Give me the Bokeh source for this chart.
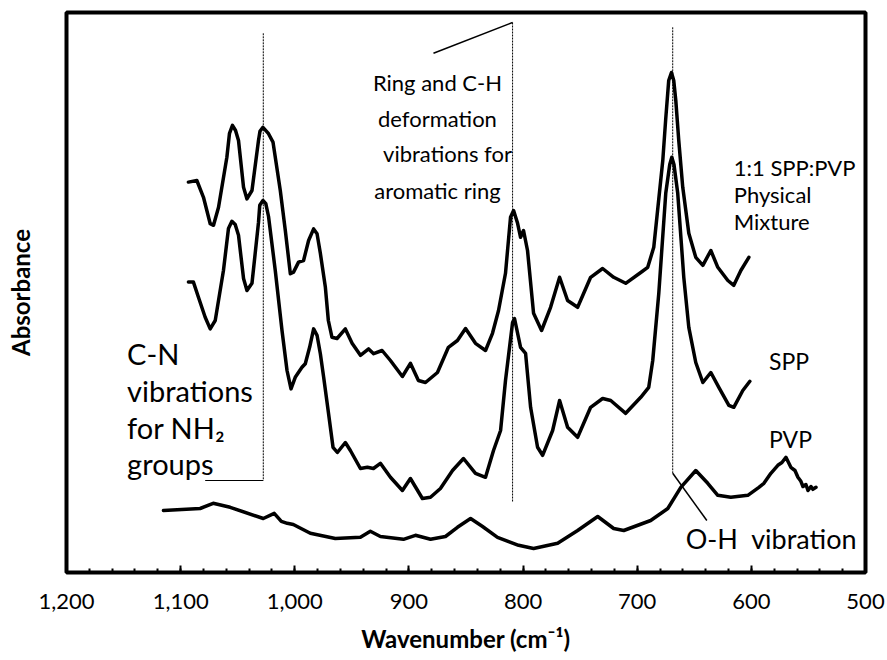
from bokeh.plotting import figure
from bokeh.models import Range1d, FixedTicker, NumeralTickFormatter
from bokeh.core.properties import value
from bokeh.embed import file_html
from bokeh.resources import INLINE

# ---------------- data ----------------
pm_wn = [1093.2, 1085.8, 1080.0, 1074.1, 1071.2, 1066.8, 1059.5, 1057.2, 1054.6, 1051.9,
         1049.3, 1044.9, 1041.9, 1037.5, 1031.8, 1030.5, 1027.9, 1023.0, 1019.1, 1012.7,
         1008.3, 1003.9, 1001.1, 996.7, 992.3, 987.9, 983.5, 980.5, 977.6, 973.2,
         970.6, 967.4, 963.0, 955.7, 949.8, 942.5, 935.3, 930.9, 923.5, 916.2,
         907.5, 905.7, 898.7, 891.7, 885.5, 875.0, 865.4, 857.5, 850.4, 841.7,
         832.9, 826.8, 821.5, 815.4, 811.0, 808.3, 804.8, 802.2, 799.6, 796.1,
         790.8, 783.8, 775.9, 768.0, 761.0, 752.2, 740.8, 730.3, 720.6, 710.1,
         696.9, 690.8, 685.5, 677.6, 675.0, 672.4, 670.0, 668.0, 666.2, 663.6,
         660.1, 654.8, 648.7, 642.5, 635.5, 629.4, 620.6, 615.4, 609.2, 602.2]
pm_abs = [0.976, 0.980, 0.938, 0.872, 0.868, 0.913, 1.038, 1.098, 1.118, 1.105,
          1.080, 0.963, 0.934, 0.955, 1.080, 1.103, 1.113, 1.097, 1.076, 0.955,
          0.855, 0.747, 0.751, 0.776, 0.780, 0.830, 0.859, 0.847, 0.798, 0.713,
          0.630, 0.588, 0.585, 0.609, 0.573, 0.543, 0.559, 0.547, 0.555, 0.530,
          0.497, 0.490, 0.523, 0.480, 0.475, 0.500, 0.563, 0.580, 0.610, 0.573,
          0.555, 0.598, 0.655, 0.748, 0.888, 0.905, 0.873, 0.838, 0.855, 0.805,
          0.648, 0.605, 0.663, 0.738, 0.680, 0.663, 0.738, 0.760, 0.738, 0.723,
          0.750, 0.763, 0.813, 1.030, 1.135, 1.230, 1.250, 1.230, 1.180, 1.080,
          0.963, 0.848, 0.788, 0.768, 0.805, 0.763, 0.730, 0.718, 0.755, 0.788]

spp_wn = [1093.2, 1088.8, 1084.4, 1078.5, 1074.1, 1069.7, 1062.5, 1058.1, 1055.1, 1052.2,
          1049.3, 1044.9, 1041.9, 1037.5, 1031.8, 1030.7, 1027.9, 1025.4, 1023.0, 1017.1,
          1011.2, 1006.8, 1003.3, 999.6, 993.7, 990.8, 987.0, 983.5, 980.5, 977.6,
          974.7, 970.4, 966.5, 962.7, 955.7, 951.3, 942.5, 936.4, 931.1, 925.0,
          916.2, 905.7, 898.7, 888.2, 881.1, 872.4, 861.8, 852.2, 841.7, 832.9,
          825.9, 819.7, 815.4, 809.2, 807.5, 802.2, 797.8, 793.4, 787.3, 782.9,
          774.1, 768.0, 761.0, 752.2, 740.8, 730.3, 723.2, 710.1, 696.9, 689.9,
          686.4, 681.1, 675.0, 671.5, 669.7, 667.8, 664.5, 659.2, 654.8, 648.7,
          642.5, 635.5, 628.5, 619.7, 615.4, 607.5, 601.3]
spp_abs = [0.726, 0.726, 0.688, 0.638, 0.609, 0.630, 0.755, 0.860, 0.878, 0.870,
           0.843, 0.735, 0.705, 0.723, 0.875, 0.918, 0.930, 0.922, 0.890, 0.755,
           0.605, 0.505, 0.459, 0.488, 0.513, 0.522, 0.563, 0.609, 0.593, 0.547,
           0.488, 0.397, 0.313, 0.300, 0.325, 0.305, 0.260, 0.263, 0.260, 0.273,
           0.238, 0.205, 0.235, 0.185, 0.188, 0.210, 0.255, 0.285, 0.248, 0.238,
           0.305, 0.355, 0.480, 0.625, 0.635, 0.563, 0.548, 0.413, 0.313, 0.293,
           0.355, 0.430, 0.363, 0.338, 0.413, 0.435, 0.430, 0.398, 0.438, 0.463,
           0.530, 0.698, 0.948, 1.020, 1.038, 1.020, 0.948, 0.738, 0.613, 0.525,
           0.475, 0.500, 0.463, 0.418, 0.413, 0.455, 0.478]

pvp_wn = [1115.1, 1082.9, 1071.5, 1056.6, 1027.6, 1018.0, 1011.8, 1006.6, 1001.3, 986.4,
          964.5, 942.5, 933.8, 925.0, 904.8, 894.3, 881.1, 868.0, 857.5, 846.0,
          835.5, 822.4, 803.9, 790.8, 769.7, 752.2, 734.6, 720.6, 711.8, 688.2,
          673.2, 661.8, 648.7, 638.2, 629.4, 618.0, 603.1, 593.4, 589.0, 582.9,
          576.8, 573.2, 569.7, 565.4, 561.8, 559.2, 556.6, 554.8, 552.2, 550.4,
          547.8, 546.1, 543.4]
pvp_abs = [0.155, 0.160, 0.173, 0.163, 0.135, 0.148, 0.128, 0.123, 0.120, 0.098,
           0.085, 0.088, 0.103, 0.090, 0.083, 0.093, 0.083, 0.090, 0.113, 0.135,
           0.115, 0.088, 0.068, 0.060, 0.073, 0.105, 0.140, 0.110, 0.105, 0.130,
           0.160, 0.213, 0.255, 0.223, 0.193, 0.188, 0.193, 0.213, 0.223, 0.248,
           0.268, 0.275, 0.288, 0.263, 0.255, 0.238, 0.228, 0.215, 0.220, 0.205,
           0.215, 0.208, 0.213]

x_ticks = [1200, 1100, 1000, 900, 800, 700, 600, 500]

# annotation band positions (wavenumber, absorbance)
cn_line_wn = [1027.6, 1027.6, 1078.5]
cn_line_abs = [1.348, 0.230, 0.230]
ring_line_wn = [878.5, 809.2, 809.2]
ring_line_abs = [1.298, 1.375, 0.175]
oh_line_wn = [668.9, 668.9, 639.0]
oh_line_abs = [1.363, 0.248, 0.130]

cn_text = ["C-N", "vibrations", "for NH\u2082", "groups"]
cn_text_wn = [1146.9] * 4
cn_text_abs = [0.548, 0.455, 0.363, 0.273]

ring_text = ["Ring and C-H", "deformation", "vibrations for", "aromatic ring"]
ring_text_wn = [875.0, 875.0, 866.2, 875.0]
ring_text_abs = [1.225, 1.135, 1.048, 0.955]

mix_text = ["1:1 SPP:PVP", "Physical", "Mixture"]
mix_text_wn = [615.4] * 3
mix_text_abs = [1.013, 0.945, 0.878]

series_labels = ["SPP", "PVP", "O-H\u00a0\u00a0vibration"]
series_label_wn = [584.6, 584.6, 657.5]
series_label_abs = [0.530, 0.335, 0.085]

FONT = "Lato"

p = figure(width=887, height=660, output_backend="svg", toolbar_location=None,
           x_range=Range1d(1200, 500), y_range=Range1d(0, 1.4),
           min_border_left=66, min_border_right=22, min_border_top=12, min_border_bottom=88)
p.background_fill_color = "white"
p.border_fill_color = "white"
p.outline_line_color = "black"
p.outline_line_width = 4
p.xgrid.visible = False
p.ygrid.visible = False

xa = p.xaxis[0]
xa.ticker = FixedTicker(ticks=x_ticks, minor_ticks=list(range(500, 1201, 20)))
xa.formatter = NumeralTickFormatter(format="0,0")
xa.axis_line_color = None
xa.major_tick_in = 7
xa.major_tick_out = 0
xa.minor_tick_in = 4
xa.minor_tick_out = 0
xa.major_tick_line_width = 2
xa.minor_tick_line_width = 2
xa.major_tick_line_color = "black"
xa.minor_tick_line_color = "black"
xa.major_label_text_font = FONT
xa.major_label_text_font_size = "22px"
xa.major_label_text_color = "black"
xa.major_label_standoff = 21
xa.axis_label = "Wavenumber (cm\u207b\u00b9)"
xa.axis_label_text_font = FONT
xa.axis_label_text_font_style = "bold"
xa.axis_label_text_font_size = "24px"
xa.axis_label_text_color = "black"
xa.axis_label_standoff = 12

ya = p.yaxis[0]
ya.axis_line_color = None
ya.major_tick_line_color = None
ya.minor_tick_line_color = None
ya.major_label_text_font_size = "0px"
ya.axis_label = "Absorbance"
ya.axis_label_text_font = FONT
ya.axis_label_text_font_style = "bold"
ya.axis_label_text_font_size = "24px"
ya.axis_label_text_color = "black"
ya.axis_label_standoff = 26

# spectra
for xs, ys in ((pm_wn, pm_abs), (spp_wn, spp_abs), (pvp_wn, pvp_abs)):
    p.line(xs, ys, line_color="black", line_width=3.5, line_join="round", line_cap="round")

# annotation leader lines
p.line(cn_line_wn[:2], cn_line_abs[:2], line_color="black", line_width=1, line_dash="2 1")
p.line(cn_line_wn[1:], cn_line_abs[1:], line_color="black", line_width=1.2)
p.line(ring_line_wn[:2], ring_line_abs[:2], line_color="black", line_width=1.5)
p.line(ring_line_wn[1:], ring_line_abs[1:], line_color="black", line_width=1, line_dash="2 1")
p.line(oh_line_wn[:2], oh_line_abs[:2], line_color="black", line_width=1, line_dash="2 1")
p.line(oh_line_wn[1:], oh_line_abs[1:], line_color="black", line_width=1.5)

# annotation texts
p.text(cn_text_wn, cn_text_abs, text=cn_text, text_font=value(FONT), text_font_size="29px",
       text_align="left", text_baseline="middle", text_color="black")
p.text(ring_text_wn, ring_text_abs, text=ring_text, text_font=value(FONT), text_font_size="22px",
       text_align="center", text_baseline="middle", text_color="black")
p.text(mix_text_wn, mix_text_abs, text=mix_text, text_font=value(FONT), text_font_size="22px",
       text_align="left", text_baseline="middle", text_color="black")
p.text(series_label_wn[:2], series_label_abs[:2], text=series_labels[:2], text_font=value(FONT),
       text_font_size="23px", text_align="left", text_baseline="middle", text_color="black")
p.text(series_label_wn[2:], series_label_abs[2:], text=series_labels[2:], text_font=value(FONT),
       text_font_size="27px", text_align="left", text_baseline="middle", text_color="black")

open("out.html", "w").write(file_html(p, INLINE))
